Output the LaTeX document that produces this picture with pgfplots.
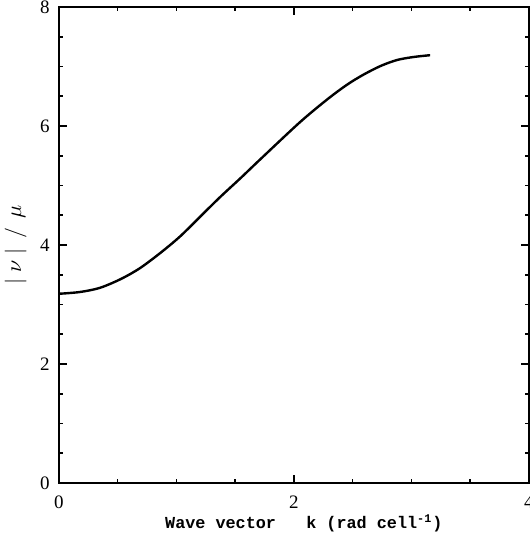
\documentclass[border=0pt]{standalone}
\usepackage{fontspec}
\setmainfont{Liberation Serif}
\newfontfamily\monob{Liberation Mono}
\usepackage{pgfplots}
\pgfplotsset{compat=1.18}
\begin{document}
\begin{tikzpicture}
\begin{axis}[
  scale only axis,
  width=235pt, height=238pt,
  xmin=0, xmax=4, ymin=0, ymax=8,
  xtick={0,2,4}, ytick={0,2,4,6,8},
  minor xtick={0.5,1,...,3.5}, minor ytick={0.5,1,...,7.5},
  tick align=inside,
  major tick length=4pt, minor tick length=2pt,
  every tick/.style={black, line width=0.8pt},
  axis line style={line width=1pt},
  tick label style={font=\fontsize{9.5}{11}\selectfont},
  /pgf/number format/assume math mode=true,
  xticklabel style={yshift=-3pt},
  yticklabel style={xshift=-1pt},
  xlabel={\monob\bfseries\fontsize{8.4}{10}\selectfont Wave vector\ \ \ k (rad cell\textsuperscript{-1})},
  ylabel={\fontsize{11}{12}\selectfont $|\;\nu\;|\ \,/\ \,\mu$},
  xlabel style={yshift=4pt, xshift=5pt},
  ylabel style={yshift=0pt},
]
\addplot[black, line width=1.2pt, smooth, tension=0.5] coordinates {
(0,3.18) (0.18,3.21) (0.35,3.28) (0.53,3.43) (0.69,3.61) (0.86,3.86)
(1.03,4.14) (1.20,4.47) (1.37,4.80) (1.55,5.13) (1.72,5.45)
(2.05,6.06) (2.28,6.44) (2.45,6.69) (2.59,6.86) (2.74,7.01) (2.88,7.11)
(3.02,7.16) (3.16,7.19)
};
\coordinate (SW) at (rel axis cs:0,0);
\coordinate (NE) at (rel axis cs:1,1);
\end{axis}
\pgfresetboundingbox
\path[use as bounding box] ([xshift=-29.4pt,yshift=-27pt]SW) rectangle ([xshift=0.5pt,yshift=3.5pt]NE);
\end{tikzpicture}
\end{document}
